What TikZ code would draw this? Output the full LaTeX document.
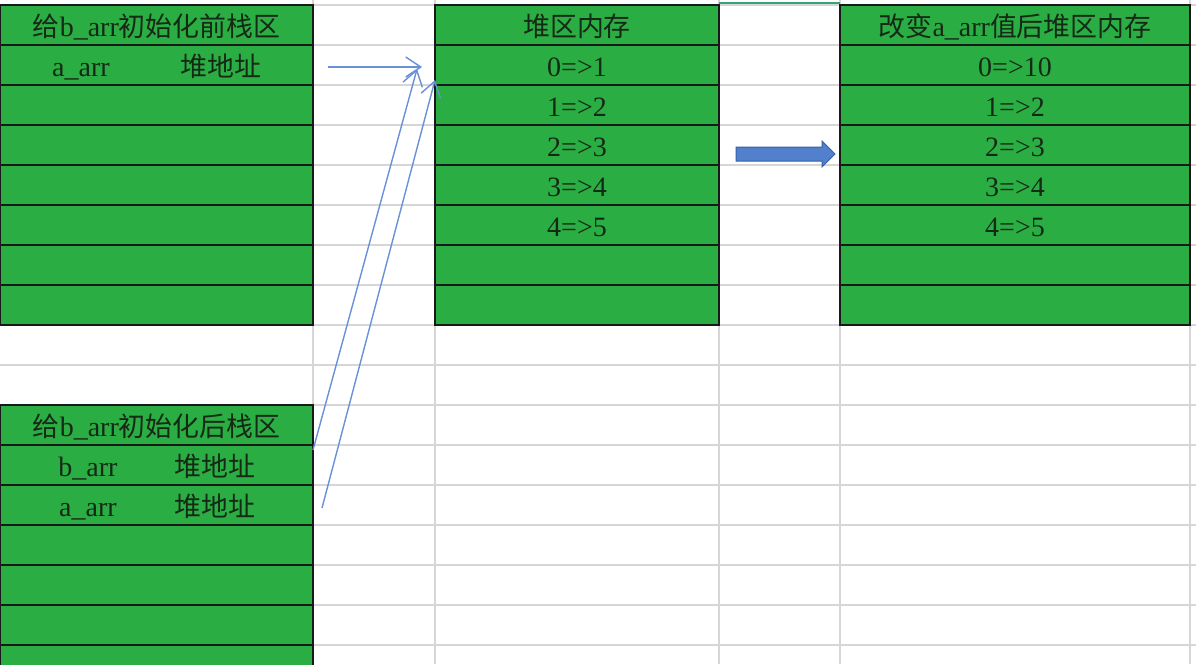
\documentclass[tikz,border=0pt]{standalone}
\usepackage{fontspec}
\setmainfont{Liberation Serif}
\newfontfamily\cjk{Noto Sans CJK SC}[Scale=0.96]
\usetikzlibrary{arrows.meta}
\definecolor{cellgreen}{RGB}{42,173,67}
\definecolor{gridgray}{RGB}{214,214,214}
\definecolor{ptrblue}{RGB}{105,145,215}
\definecolor{blockblue}{RGB}{82,128,205}
\definecolor{blockedge}{RGB}{55,95,165}
\definecolor{txt}{RGB}{22,40,22}
\definecolor{selteal}{RGB}{60,160,120}
\begin{document}
\begin{tikzpicture}[x=1pt,y=-1pt,
 cell/.style={draw=black!90, line width=1.5pt, fill=cellgreen, anchor=north west,
   minimum height=40pt, inner sep=0pt, outer sep=0pt, text=txt,
   text height=29pt, text depth=6pt,
   font=\fontsize{28}{30}\selectfont},
 lbl/.style={text=txt, font=\fontsize{28}{30}\selectfont, inner sep=0pt,
   text height=29pt, text depth=6pt},
 gridline/.style={draw=gridgray, line width=1.8pt},
 ptr/.style={draw=ptrblue, line width=1.4pt,
   -{Straight Barb[length=15pt,width=20pt,line width=1.4pt]}},
]
\clip (0,0) rectangle (1196,664);
\fill[white] (0,0) rectangle (1196,664);
% spreadsheet grid
\foreach \k in {0,...,16} \draw[gridline] (0,5+40*\k) -- (1196,5+40*\k);
\foreach \x in {313,435,719,840,1190} \draw[gridline] (\x,0) -- (\x,664);
\draw[selteal, line width=2pt] (719,3) -- (840,3);

% left table: before init
\node[cell, minimum width=313pt] (L0) at (0,5) {{\cjk 给}b\_arr{\cjk 初始化前栈区}};
\foreach \i in {1,...,7} \node[cell, minimum width=313pt] (L\i) at (0,5+40*\i) {};
\node[lbl] (L1a) at ([xshift=81pt]L1.west) {a\_arr};
\node[lbl] (L1b) at ([xshift=221pt]L1.west) {\cjk 堆地址};

% middle table: heap
\node[cell, minimum width=284pt] (M0) at (435,5) {\cjk 堆区内存};
\node[cell, minimum width=284pt] (M1) at (435,45) {0=>1};
\node[cell, minimum width=284pt] (M2) at (435,85) {1=>2};
\node[cell, minimum width=284pt] (M3) at (435,125) {2=>3};
\node[cell, minimum width=284pt] (M4) at (435,165) {3=>4};
\node[cell, minimum width=284pt] (M5) at (435,205) {4=>5};
\node[cell, minimum width=284pt] (M6) at (435,245) {};
\node[cell, minimum width=284pt] (M7) at (435,285) {};

% right table: heap after change
\node[cell, minimum width=350pt] (R0) at (840,5) {{\cjk 改变}a\_arr{\cjk 值后堆区内存}};
\node[cell, minimum width=350pt] (R1) at (840,45) {0=>10};
\node[cell, minimum width=350pt] (R2) at (840,85) {1=>2};
\node[cell, minimum width=350pt] (R3) at (840,125) {2=>3};
\node[cell, minimum width=350pt] (R4) at (840,165) {3=>4};
\node[cell, minimum width=350pt] (R5) at (840,205) {4=>5};
\node[cell, minimum width=350pt] (R6) at (840,245) {};
\node[cell, minimum width=350pt] (R7) at (840,285) {};

% bottom-left table: after init
\node[cell, minimum width=313pt] (B0) at (0,405) {{\cjk 给}b\_arr{\cjk 初始化后栈区}};
\foreach \i in {1,...,6} \node[cell, minimum width=313pt] (B\i) at (0,405+40*\i) {};
\node[lbl] (B1a) at ([xshift=88pt]B1.west) {b\_arr};
\node[lbl] (B1b) at ([xshift=215pt]B1.west) {\cjk 堆地址};
\node[lbl] (B2a) at ([xshift=88pt]B2.west) {a\_arr};
\node[lbl] (B2b) at ([xshift=215pt]B2.west) {\cjk 堆地址};

% pointer arrows
\draw[ptr] ([xshift=15pt,yshift=-2pt]L1.east) -- ([xshift=-13pt,yshift=-2pt]M1.west);
\draw[ptr] ([yshift=15pt]B1.east) -- ([xshift=-18pt,yshift=-4pt]M1.west);
\draw[ptr] ([xshift=9pt,yshift=-3pt]B2.east) -- ([yshift=-15pt]M1.west);

% block arrow
\coordinate (bigtail) at ([xshift=17pt,yshift=-9pt]M3.east);
\draw[draw=blockedge, fill=blockblue, line width=1pt, line join=miter]
  (bigtail) ++(0,-7) -- ++(86,0) -- ++(0,-6) -- ++(13,13) -- ++(-13,13)
  -- ++(0,-6) -- ++(-86,0) -- cycle;
\end{tikzpicture}
\end{document}
